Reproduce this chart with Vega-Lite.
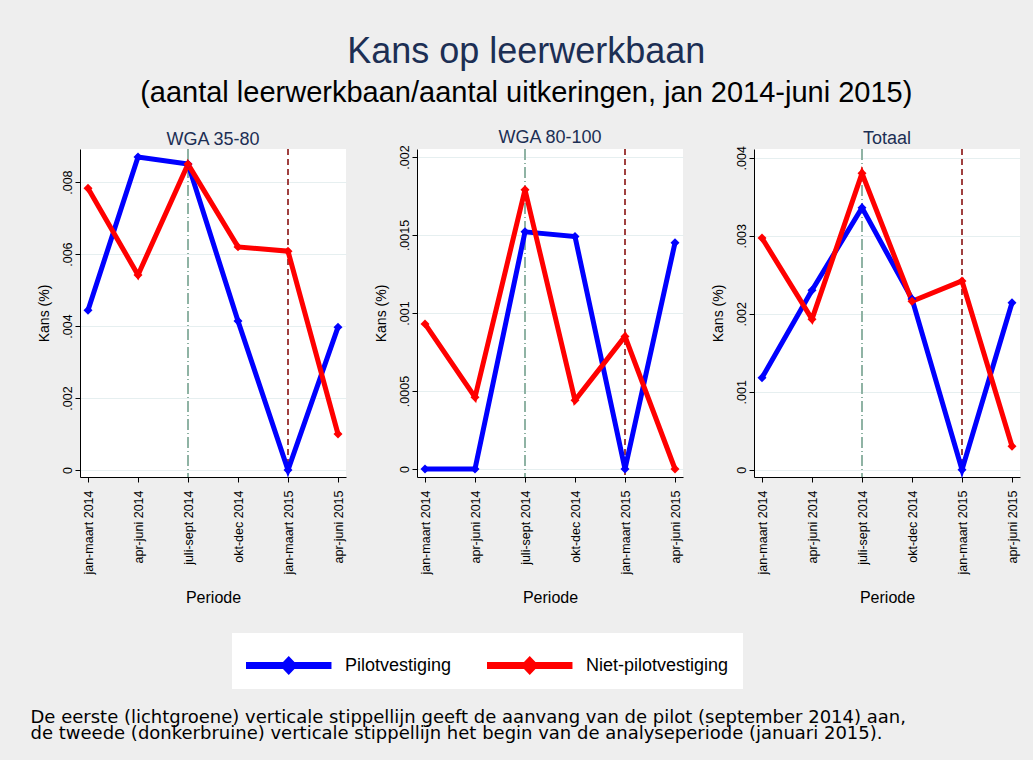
{
  "$schema": "https://vega.github.io/schema/vega-lite/v6.json",
  "background": "#eeeeee",
  "padding": {"left": 30, "top": 33, "right": 15, "bottom": 20},
  "title": {
    "text": "Kans op leerwerkbaan",
    "subtitle": "(aantal leerwerkbaan/aantal uitkeringen, jan 2014-juni 2015)",
    "font": "Liberation Sans",
    "fontSize": 36,
    "fontWeight": "normal",
    "color": "#1c2f54",
    "subtitleFont": "Liberation Sans",
    "subtitleFontSize": 29,
    "subtitleColor": "#000000",
    "subtitlePadding": 8,
    "anchor": "middle",
    "offset": 20
  },
  "datasets": {
    "series": [
      {"panel": "WGA 35-80", "groep": "Pilotvestiging", "periode": "jan-maart 2014", "kans": 0.00444},
      {"panel": "WGA 35-80", "groep": "Pilotvestiging", "periode": "apr-juni 2014", "kans": 0.0087},
      {"panel": "WGA 35-80", "groep": "Pilotvestiging", "periode": "juli-sept 2014", "kans": 0.0085},
      {"panel": "WGA 35-80", "groep": "Pilotvestiging", "periode": "okt-dec 2014", "kans": 0.00414},
      {"panel": "WGA 35-80", "groep": "Pilotvestiging", "periode": "jan-maart 2015", "kans": 0},
      {"panel": "WGA 35-80", "groep": "Pilotvestiging", "periode": "apr-juni 2015", "kans": 0.00397},
      {"panel": "WGA 35-80", "groep": "Niet-pilotvestiging", "periode": "jan-maart 2014", "kans": 0.00783},
      {"panel": "WGA 35-80", "groep": "Niet-pilotvestiging", "periode": "apr-juni 2014", "kans": 0.00542},
      {"panel": "WGA 35-80", "groep": "Niet-pilotvestiging", "periode": "juli-sept 2014", "kans": 0.0085},
      {"panel": "WGA 35-80", "groep": "Niet-pilotvestiging", "periode": "okt-dec 2014", "kans": 0.0062},
      {"panel": "WGA 35-80", "groep": "Niet-pilotvestiging", "periode": "jan-maart 2015", "kans": 0.00608},
      {"panel": "WGA 35-80", "groep": "Niet-pilotvestiging", "periode": "apr-juni 2015", "kans": 0.001},
      {"panel": "WGA 80-100", "groep": "Pilotvestiging", "periode": "jan-maart 2014", "kans": 0},
      {"panel": "WGA 80-100", "groep": "Pilotvestiging", "periode": "apr-juni 2014", "kans": 0},
      {"panel": "WGA 80-100", "groep": "Pilotvestiging", "periode": "juli-sept 2014", "kans": 0.00152},
      {"panel": "WGA 80-100", "groep": "Pilotvestiging", "periode": "okt-dec 2014", "kans": 0.00149},
      {"panel": "WGA 80-100", "groep": "Pilotvestiging", "periode": "jan-maart 2015", "kans": 0},
      {"panel": "WGA 80-100", "groep": "Pilotvestiging", "periode": "apr-juni 2015", "kans": 0.00145},
      {"panel": "WGA 80-100", "groep": "Niet-pilotvestiging", "periode": "jan-maart 2014", "kans": 0.00093},
      {"panel": "WGA 80-100", "groep": "Niet-pilotvestiging", "periode": "apr-juni 2014", "kans": 0.00046},
      {"panel": "WGA 80-100", "groep": "Niet-pilotvestiging", "periode": "juli-sept 2014", "kans": 0.00179},
      {"panel": "WGA 80-100", "groep": "Niet-pilotvestiging", "periode": "okt-dec 2014", "kans": 0.00044},
      {"panel": "WGA 80-100", "groep": "Niet-pilotvestiging", "periode": "jan-maart 2015", "kans": 0.00085},
      {"panel": "WGA 80-100", "groep": "Niet-pilotvestiging", "periode": "apr-juni 2015", "kans": 0},
      {"panel": "Totaal", "groep": "Pilotvestiging", "periode": "jan-maart 2014", "kans": 0.00118},
      {"panel": "Totaal", "groep": "Pilotvestiging", "periode": "apr-juni 2014", "kans": 0.0023},
      {"panel": "Totaal", "groep": "Pilotvestiging", "periode": "juli-sept 2014", "kans": 0.00336},
      {"panel": "Totaal", "groep": "Pilotvestiging", "periode": "okt-dec 2014", "kans": 0.00219},
      {"panel": "Totaal", "groep": "Pilotvestiging", "periode": "jan-maart 2015", "kans": 0},
      {"panel": "Totaal", "groep": "Pilotvestiging", "periode": "apr-juni 2015", "kans": 0.00214},
      {"panel": "Totaal", "groep": "Niet-pilotvestiging", "periode": "jan-maart 2014", "kans": 0.00297},
      {"panel": "Totaal", "groep": "Niet-pilotvestiging", "periode": "apr-juni 2014", "kans": 0.00193},
      {"panel": "Totaal", "groep": "Niet-pilotvestiging", "periode": "juli-sept 2014", "kans": 0.0038},
      {"panel": "Totaal", "groep": "Niet-pilotvestiging", "periode": "okt-dec 2014", "kans": 0.00216},
      {"panel": "Totaal", "groep": "Niet-pilotvestiging", "periode": "jan-maart 2015", "kans": 0.00242},
      {"panel": "Totaal", "groep": "Niet-pilotvestiging", "periode": "apr-juni 2015", "kans": 0.0003}
    ],
    "markers": [
      {"soort": "start pilot", "periode": "juli-sept 2014"},
      {"soort": "analyseperiode", "periode": "jan-maart 2015"}
    ],
    "notes": [
      {"tekst": "De eerste (lichtgroene) verticale stippellijn geeft de aanvang van de pilot (september 2014) aan,\nde tweede (donkerbruine) verticale stippellijn het begin van de analyseperiode (januari 2015)."}
    ]
  },
  "config": {
    "font": "Liberation Sans",
    "view": {"fill": "white", "stroke": null},
    "axis": {
      "domainColor": "#000000",
      "tickColor": "#000000",
      "labelColor": "#000000",
      "titleColor": "#000000",
      "labelFont": "Liberation Sans",
      "titleFont": "Liberation Sans",
      "titleFontWeight": "normal",
      "tickSize": 5,
      "domainWidth": 1,
      "tickWidth": 1
    },
    "axisX": {
      "labelAngle": 270,
      "labelAlign": "right",
      "labelBaseline": "middle",
      "labelFontSize": 12.5,
      "labelPadding": 8,
      "titleFontSize": 16,
      "titlePadding": 15,
      "grid": false
    },
    "axisY": {
      "labelAngle": 270,
      "labelAlign": "center",
      "labelBaseline": "bottom",
      "labelFontSize": 12.5,
      "labelPadding": 1,
      "titleFontSize": 14,
      "titlePadding": 10,
      "grid": true,
      "gridColor": "#e6eff0",
      "gridWidth": 1
    },
    "legend": {
      "title": null,
      "orient": "none",
      "direction": "horizontal",
      "legendX": 152,
      "legendY": 484,
      "fillColor": "white",
      "strokeColor": null,
      "padding": 14,
      "labelFont": "Liberation Sans",
      "labelFontSize": 18,
      "labelColor": "#000000",
      "labelOffset": 62,
      "columnPadding": 35,
      "symbolSize": 1369,
      "symbolType": "M-1,-0.19L3.62,-0.19L3.62,0.19L-1,0.19Z M1.31,-0.51L1.8,0L1.31,0.51L0.82,0Z",
      "symbolStrokeWidth": 0
    },
    "title": {"font": "Liberation Sans", "fontSize": 18, "fontWeight": "normal", "color": "#1c2f54", "offset": -2}
  },
  "resolve": {"scale": {"color": "shared"}, "legend": {"color": "shared"}},
  "vconcat": [
    {
      "spacing": 26,
      "resolve": {"scale": {"color": "shared"}, "legend": {"color": "shared"}},
      "hconcat": [
        {
          "width": 266, "height": 328,
          "title": "WGA 35-80",
          "layer": [
            {
              "data": {"name": "markers"},
              "transform": [{"filter": "datum.soort == 'start pilot'"}],
              "mark": {"type": "rule", "color": "#8fb3a4", "strokeWidth": 2, "strokeDash": [11, 3, 1, 3]},
              "encoding": {"x": {"field": "periode", "type": "ordinal", "sort": ["jan-maart 2014", "apr-juni 2014", "juli-sept 2014", "okt-dec 2014", "jan-maart 2015", "apr-juni 2015"]}}
            },
            {
              "data": {"name": "markers"},
              "transform": [{"filter": "datum.soort == 'analyseperiode'"}],
              "mark": {"type": "rule", "color": "#a0403f", "strokeWidth": 2, "strokeDash": [6, 4]},
              "encoding": {"x": {"field": "periode", "type": "ordinal", "sort": ["jan-maart 2014", "apr-juni 2014", "juli-sept 2014", "okt-dec 2014", "jan-maart 2015", "apr-juni 2015"]}}
            },
            {
              "data": {"name": "series"},
              "transform": [{"filter": "datum.panel == 'WGA 35-80'"}],
              "mark": {"type": "line", "strokeWidth": 5, "point": {"shape": "diamond", "filled": true, "size": 80}},
              "encoding": {
                "x": {"field": "periode", "type": "ordinal", "sort": ["jan-maart 2014", "apr-juni 2014", "juli-sept 2014", "okt-dec 2014", "jan-maart 2015", "apr-juni 2015"], "scale": {"type": "point", "padding": 0.16}, "axis": {"title": "Periode"}},
                "y": {"field": "kans", "type": "quantitative", "scale": {"domain": [-0.000194, 0.00892], "nice": false, "zero": false}, "axis": {"title": "Kans (%)", "values": [0, 0.002, 0.004, 0.006, 0.008], "labelExpr": "datum.value == 0 ? '0' : substring(format(datum.value, '.4~f'), 1)"}},
                "color": {
                  "field": "groep", "type": "nominal", "sort": ["Pilotvestiging", "Niet-pilotvestiging"],
                  "scale": {"domain": ["Pilotvestiging", "Niet-pilotvestiging"], "range": ["#0000ff", "#ff0000"]},
                  "legend": {"labelFontSize": 18, "encode": {"symbols": {"update": {"fill": {"signal": "datum.value === 'Pilotvestiging' ? '#0000ff' : '#ff0000'"}, "fillOpacity": {"value": 1}, "strokeWidth": {"value": 0}}}}}
                }
              }
            }
          ]
        },
        {
          "width": 266, "height": 328,
          "title": "WGA 80-100",
          "layer": [
            {
              "data": {"name": "markers"},
              "transform": [{"filter": "datum.soort == 'start pilot'"}],
              "mark": {"type": "rule", "color": "#8fb3a4", "strokeWidth": 2, "strokeDash": [11, 3, 1, 3]},
              "encoding": {"x": {"field": "periode", "type": "ordinal", "sort": ["jan-maart 2014", "apr-juni 2014", "juli-sept 2014", "okt-dec 2014", "jan-maart 2015", "apr-juni 2015"]}}
            },
            {
              "data": {"name": "markers"},
              "transform": [{"filter": "datum.soort == 'analyseperiode'"}],
              "mark": {"type": "rule", "color": "#a0403f", "strokeWidth": 2, "strokeDash": [6, 4]},
              "encoding": {"x": {"field": "periode", "type": "ordinal", "sort": ["jan-maart 2014", "apr-juni 2014", "juli-sept 2014", "okt-dec 2014", "jan-maart 2015", "apr-juni 2015"]}}
            },
            {
              "data": {"name": "series"},
              "transform": [{"filter": "datum.panel == 'WGA 80-100'"}],
              "mark": {"type": "line", "strokeWidth": 5, "point": {"shape": "diamond", "filled": true, "size": 80}},
              "encoding": {
                "x": {"field": "periode", "type": "ordinal", "sort": ["jan-maart 2014", "apr-juni 2014", "juli-sept 2014", "okt-dec 2014", "jan-maart 2015", "apr-juni 2015"], "scale": {"type": "point", "padding": 0.16}, "axis": {"title": "Periode"}},
                "y": {"field": "kans", "type": "quantitative", "scale": {"domain": [-0.0000513, 0.002051], "nice": false, "zero": false}, "axis": {"title": "Kans (%)", "values": [0, 0.0005, 0.001, 0.0015, 0.002], "labelExpr": "datum.value == 0 ? '0' : substring(format(datum.value, '.4~f'), 1)"}},
                "color": {
                  "field": "groep", "type": "nominal", "sort": ["Pilotvestiging", "Niet-pilotvestiging"],
                  "scale": {"domain": ["Pilotvestiging", "Niet-pilotvestiging"], "range": ["#0000ff", "#ff0000"]},
                  "legend": {"labelFontSize": 18, "encode": {"symbols": {"update": {"fill": {"signal": "datum.value === 'Pilotvestiging' ? '#0000ff' : '#ff0000'"}, "fillOpacity": {"value": 1}, "strokeWidth": {"value": 0}}}}}
                }
              }
            }
          ]
        },
        {
          "width": 266, "height": 328,
          "title": "Totaal",
          "layer": [
            {
              "data": {"name": "markers"},
              "transform": [{"filter": "datum.soort == 'start pilot'"}],
              "mark": {"type": "rule", "color": "#8fb3a4", "strokeWidth": 2, "strokeDash": [11, 3, 1, 3]},
              "encoding": {"x": {"field": "periode", "type": "ordinal", "sort": ["jan-maart 2014", "apr-juni 2014", "juli-sept 2014", "okt-dec 2014", "jan-maart 2015", "apr-juni 2015"]}}
            },
            {
              "data": {"name": "markers"},
              "transform": [{"filter": "datum.soort == 'analyseperiode'"}],
              "mark": {"type": "rule", "color": "#a0403f", "strokeWidth": 2, "strokeDash": [6, 4]},
              "encoding": {"x": {"field": "periode", "type": "ordinal", "sort": ["jan-maart 2014", "apr-juni 2014", "juli-sept 2014", "okt-dec 2014", "jan-maart 2015", "apr-juni 2015"]}}
            },
            {
              "data": {"name": "series"},
              "transform": [{"filter": "datum.panel == 'Totaal'"}],
              "mark": {"type": "line", "strokeWidth": 5, "point": {"shape": "diamond", "filled": true, "size": 80}},
              "encoding": {
                "x": {"field": "periode", "type": "ordinal", "sort": ["jan-maart 2014", "apr-juni 2014", "juli-sept 2014", "okt-dec 2014", "jan-maart 2015", "apr-juni 2015"], "scale": {"type": "point", "padding": 0.16}, "axis": {"title": "Periode"}},
                "y": {"field": "kans", "type": "quantitative", "scale": {"domain": [-0.0000936, 0.004112], "nice": false, "zero": false}, "axis": {"title": "Kans (%)", "values": [0, 0.001, 0.002, 0.003, 0.004], "labelExpr": "datum.value == 0 ? '0' : substring(format(datum.value, '.4~f'), 1)"}},
                "color": {
                  "field": "groep", "type": "nominal", "sort": ["Pilotvestiging", "Niet-pilotvestiging"],
                  "scale": {"domain": ["Pilotvestiging", "Niet-pilotvestiging"], "range": ["#0000ff", "#ff0000"]},
                  "legend": {"labelFontSize": 18, "encode": {"symbols": {"update": {"fill": {"signal": "datum.value === 'Pilotvestiging' ? '#0000ff' : '#ff0000'"}, "fillOpacity": {"value": 1}, "strokeWidth": {"value": 0}}}}}
                }
              }
            }
          ]
        }
      ]
    },
    {
      "width": 1,
      "height": 1,
      "data": {"name": "notes"},
      "mark": {"type": "text", "align": "left", "baseline": "top", "lineBreak": "\n", "lineHeight": 16, "font": "DejaVu Sans", "fontSize": 18, "color": "#000000", "dx": -50},
      "encoding": {
        "text": {"field": "tekst"}
      }
    }
  ],
  "spacing": 102
}
